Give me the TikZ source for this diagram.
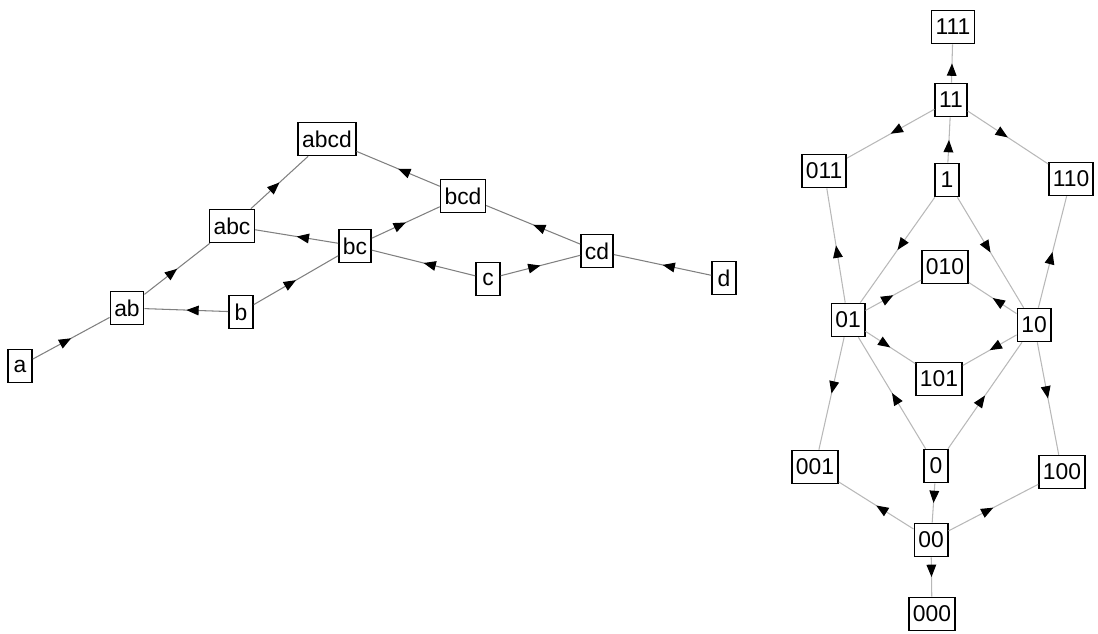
\documentclass[tikz,border=0pt]{standalone}
\usepackage{fontspec}
\setmainfont{Liberation Sans}
\usetikzlibrary{arrows.meta,decorations.markings}
\begin{document}
\begin{tikzpicture}[x=0.02cm,y=-0.02cm,
  box/.style={draw=black,line width=0.9pt,inner xsep=0.08cm,inner ysep=0pt,
    minimum height=0.66cm,minimum width=0.48cm,font=\fontsize{13}{13}\selectfont},
  edgeL/.style={draw=black!50,line width=0.6pt,postaction={decorate},
    decoration={markings,mark=at position 0.5 with {\arrow{Triangle[length=7pt,width=5.5pt,color=black]}}}},
  edgeR/.style={edgeL,draw=black!28}]
\useasboundingbox (0,0) rectangle (1098,634);
% left graph
\node[box] (a) at (20,366) {a};
\node[box] (ab) at (127,308) {ab};
\node[box] (b) at (241,312) {b};
\node[box] (abc) at (232,226) {abc};
\node[box] (bc) at (355,246) {bc};
\node[box] (abcd) at (327,139) {abcd};
\node[box] (bcd) at (463,196) {bcd};
\node[box] (c) at (488,279) {c};
\node[box] (cd) at (597,251) {cd};
\node[box] (d) at (724,278) {d};
\draw[edgeL] (a) -- (ab);
\draw[edgeL] (ab) -- (abc);
\draw[edgeL] (abc) -- (abcd);
\draw[edgeL] (b) -- (ab);
\draw[edgeL] (b) -- (bc);
\draw[edgeL] (bc) -- (abc);
\draw[edgeL] (bcd) -- (abcd);
\draw[edgeL] (bc) -- (bcd);
\draw[edgeL] (c) -- (bc);
\draw[edgeL] (c) -- (cd);
\draw[edgeL] (cd) -- (bcd);
\draw[edgeL] (d) -- (cd);
% right graph
\node[box] (n111) at (953,27) {111};
\node[box] (n11) at (951,100) {11};
\node[box] (n011) at (824,171) {011};
\node[box] (n1) at (947,180) {1};
\node[box] (n110) at (1071,179) {110};
\node[box] (n010) at (945,267) {010};
\node[box] (n01) at (848,320) {01};
\node[box] (n10) at (1034,325) {10};
\node[box] (n101) at (939,379) {101};
\node[box] (n001) at (815,467) {001};
\node[box] (n0) at (936,466) {0};
\node[box] (n100) at (1062,472) {100};
\node[box] (n00) at (931,540) {00};
\node[box] (n000) at (932,614) {000};
\draw[edgeR] (n11) -- (n111);
\draw[edgeR] (n11) -- (n011);
\draw[edgeR] (n1) -- (n11);
\draw[edgeR] (n11) -- (n110);
\draw[edgeR] (n01) -- (n011);
\draw[edgeR] (n1) -- (n01);
\draw[edgeR] (n1) -- (n10);
\draw[edgeR] (n10) -- (n110);
\draw[edgeR] (n01) -- (n010);
\draw[edgeR] (n10) -- (n010);
\draw[edgeR] (n01) -- (n101);
\draw[edgeR] (n10) -- (n101);
\draw[edgeR] (n01) -- (n001);
\draw[edgeR] (n0) -- (n01);
\draw[edgeR] (n0) -- (n10);
\draw[edgeR] (n10) -- (n100);
\draw[edgeR] (n00) -- (n001);
\draw[edgeR] (n0) -- (n00);
\draw[edgeR] (n00) -- (n100);
\draw[edgeR] (n00) -- (n000);
\end{tikzpicture}
\end{document}
